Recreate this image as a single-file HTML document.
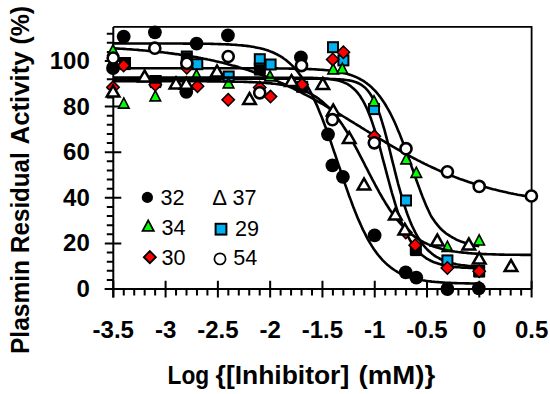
<!DOCTYPE html>
<html><head><meta charset="utf-8"><style>html,body{margin:0;padding:0;background:#fff;width:550px;height:394px;overflow:hidden}text{font-family:"Liberation Sans",sans-serif}</style></head>
<body>
<svg width="550" height="394" viewBox="0 0 550 394" style="display:block">
<rect x="0" y="0" width="550" height="394" fill="#fff"/>
<path d="M113.30 26.90 H531.60 V289.00" fill="none" stroke="#000" stroke-width="1.8"/>
<path d="M113.30 26.90 V297.50" stroke="#000" stroke-width="2" fill="none"/>
<path d="M104.80 289.00 H531.60" stroke="#000" stroke-width="2" fill="none"/>
<path d="M113.30 280.70 V297.50 M123.76 289.00 V295.50 M134.22 289.00 V295.50 M144.67 289.00 V295.50 M155.13 289.00 V295.50 M165.59 280.70 V297.50 M176.05 289.00 V295.50 M186.50 289.00 V295.50 M196.96 289.00 V295.50 M207.42 289.00 V295.50 M217.88 280.70 V297.50 M228.33 289.00 V295.50 M238.79 289.00 V295.50 M249.25 289.00 V295.50 M259.71 289.00 V295.50 M270.16 280.70 V297.50 M280.62 289.00 V295.50 M291.08 289.00 V295.50 M301.54 289.00 V295.50 M311.99 289.00 V295.50 M322.45 280.70 V297.50 M332.91 289.00 V295.50 M343.37 289.00 V295.50 M353.82 289.00 V295.50 M364.28 289.00 V295.50 M374.74 280.70 V297.50 M385.20 289.00 V295.50 M395.65 289.00 V295.50 M406.11 289.00 V295.50 M416.57 289.00 V295.50 M427.03 280.70 V297.50 M437.48 289.00 V295.50 M447.94 289.00 V295.50 M458.40 289.00 V295.50 M468.86 289.00 V295.50 M479.31 280.70 V297.50 M489.77 289.00 V295.50 M500.23 289.00 V295.50 M510.69 289.00 V295.50 M521.14 289.00 V295.50 M531.60 280.70 V297.50 M104.80 289.00 H121.30 M106.80 279.88 H113.30 M106.80 270.76 H113.30 M106.80 261.64 H113.30 M106.80 252.52 H113.30 M104.80 243.40 H121.30 M106.80 234.28 H113.30 M106.80 225.16 H113.30 M106.80 216.04 H113.30 M106.80 206.92 H113.30 M104.80 197.80 H121.30 M106.80 188.68 H113.30 M106.80 179.56 H113.30 M106.80 170.44 H113.30 M106.80 161.32 H113.30 M104.80 152.20 H121.30 M106.80 143.08 H113.30 M106.80 133.96 H113.30 M106.80 124.84 H113.30 M106.80 115.72 H113.30 M104.80 106.60 H121.30 M106.80 97.48 H113.30 M106.80 88.36 H113.30 M106.80 79.24 H113.30 M106.80 70.12 H113.30 M104.80 61.00 H121.30 M106.80 51.88 H113.30 M106.80 42.76 H113.30 M106.80 33.64 H113.30" stroke="#000" stroke-width="2" fill="none"/>
<path d="M113.3 43.4 114.8 43.4 116.4 43.4 117.9 43.4 119.4 43.4 121.0 43.4 122.5 43.4 124.0 43.4 125.6 43.5 127.1 43.5 128.6 43.5 130.1 43.5 131.7 43.5 133.2 43.5 134.7 43.5 136.3 43.5 137.8 43.5 139.3 43.5 140.9 43.5 142.4 43.5 143.9 43.5 145.5 43.5 147.0 43.5 148.5 43.5 150.1 43.5 151.6 43.5 153.1 43.5 154.6 43.5 156.2 43.5 157.7 43.5 159.2 43.5 160.8 43.5 162.3 43.5 163.8 43.5 165.4 43.5 166.9 43.5 168.4 43.5 170.0 43.5 171.5 43.5 173.0 43.5 174.6 43.5 176.1 43.5 177.6 43.5 179.2 43.5 180.7 43.5 182.2 43.5 183.7 43.6 185.3 43.6 186.8 43.6 188.3 43.6 189.9 43.6 191.4 43.6 192.9 43.6 194.5 43.6 196.0 43.6 197.5 43.7 199.1 43.7 200.6 43.7 202.1 43.7 203.7 43.7 205.2 43.8 206.7 43.8 208.2 43.8 209.8 43.8 211.3 43.9 212.8 43.9 214.4 44.0 215.9 44.0 217.4 44.0 219.0 44.1 220.5 44.1 222.0 44.2 223.6 44.2 225.1 44.3 226.6 44.4 228.2 44.4 229.7 44.5 231.2 44.6 232.8 44.7 234.3 44.8 235.8 44.9 237.3 45.0 238.9 45.2 240.4 45.3 241.9 45.4 243.5 45.6 245.0 45.8 246.5 45.9 248.1 46.1 249.6 46.3 251.1 46.6 252.7 46.8 254.2 47.1 255.7 47.4 257.3 47.7 258.8 48.0 260.3 48.3 261.8 48.7 263.4 49.1 264.9 49.6 266.4 50.0 268.0 50.5 269.5 51.1 271.0 51.7 272.6 52.3 274.1 53.0 275.6 53.7 277.2 54.5 278.7 55.3 280.2 56.2 281.8 57.2 283.3 58.2 284.8 59.3 286.4 60.4 287.9 61.7 289.4 63.0 290.9 64.4 292.5 65.9 294.0 67.5 295.5 69.2 297.1 71.0 298.6 72.9 300.1 75.0 301.7 77.1 303.2 79.4 304.7 81.8 306.3 84.3 307.8 86.9 309.3 89.7 310.9 92.6 312.4 95.7 313.9 98.9 315.4 102.2 317.0 105.6 318.5 109.2 320.0 112.9 321.6 116.7 323.1 120.7 324.6 124.7 326.2 128.9 327.7 133.1 329.2 137.4 330.8 141.8 332.3 146.3 333.8 150.8 335.4 155.3 336.9 159.9 338.4 164.5 340.0 169.0 341.5 173.6 343.0 178.1 344.5 182.6 346.1 187.1 347.6 191.4 349.1 195.7 350.7 199.9 352.2 204.0 353.7 208.1 355.3 212.0 356.8 215.7 358.3 219.4 359.9 222.9 361.4 226.3 362.9 229.6 364.5 232.7 366.0 235.7 367.5 238.6 369.0 241.3 370.6 243.9 372.1 246.4 373.6 248.7 375.2 250.9 376.7 253.1 378.2 255.0 379.8 256.9 381.3 258.7 382.8 260.3 384.4 261.9 385.9 263.4 387.4 264.8 389.0 266.1 390.5 267.3 392.0 268.4 393.6 269.5 395.1 270.5 396.6 271.4 398.1 272.3 399.7 273.1 401.2 273.8 402.7 274.5 404.3 275.2 405.8 275.8 407.3 276.4 408.9 276.9 410.4 277.4 411.9 277.8 413.5 278.3 415.0 278.7 416.5 279.0 418.1 279.4 419.6 279.7 421.1 280.0 422.6 280.3 424.2 280.5 425.7 280.8 427.2 281.0 428.8 281.2 430.3 281.4 431.8 281.6 433.4 281.7 434.9 281.9 436.4 282.0 438.0 282.1 439.5 282.3 441.0 282.4 442.6 282.5 444.1 282.6 445.6 282.7 447.2 282.7 448.7 282.8 450.2 282.9 451.7 283.0 453.3 283.0 454.8 283.1 456.3 283.1 457.9 283.2 459.4 283.2 460.9 283.3 462.5 283.3 464.0 283.3 465.5 283.4 467.1 283.4 468.6 283.4 470.1 283.5 471.7 283.5 473.2 283.5 474.7 283.5 476.2 283.6 477.8 283.6 479.3 283.6" fill="none" stroke="#000" stroke-width="2.6" stroke-linejoin="round"/>
<path d="M113.3 48.3 115.1 48.4 116.8 48.5 118.6 48.6 120.3 48.7 122.1 48.8 123.8 48.9 125.6 49.0 127.3 49.2 129.1 49.3 130.8 49.4 132.6 49.5 134.3 49.7 136.1 49.8 137.8 49.9 139.6 50.1 141.3 50.2 143.1 50.4 144.8 50.5 146.6 50.7 148.3 50.9 150.1 51.0 151.8 51.2 153.6 51.4 155.3 51.6 157.1 51.7 158.8 51.9 160.6 52.1 162.3 52.3 164.1 52.5 165.8 52.7 167.6 52.9 169.3 53.2 171.1 53.4 172.8 53.6 174.6 53.9 176.3 54.1 178.1 54.3 179.8 54.6 181.6 54.8 183.3 55.1 185.1 55.4 186.8 55.6 188.6 55.9 190.3 56.2 192.1 56.5 193.8 56.8 195.6 57.1 197.3 57.4 199.1 57.7 200.8 58.1 202.6 58.4 204.3 58.8 206.1 59.1 207.8 59.5 209.6 59.8 211.3 60.2 213.1 60.6 214.8 61.0 216.6 61.4 218.3 61.8 220.1 62.2 221.8 62.6 223.6 63.1 225.3 63.5 227.1 63.9 228.8 64.4 230.6 64.9 232.3 65.4 234.1 65.8 235.8 66.3 237.6 66.8 239.3 67.4 241.1 67.9 242.8 68.4 244.6 69.0 246.3 69.5 248.1 70.1 249.8 70.7 251.6 71.3 253.3 71.9 255.1 72.5 256.8 73.1 258.6 73.7 260.3 74.4 262.1 75.0 263.8 75.7 265.6 76.4 267.3 77.1 269.1 77.7 270.8 78.5 272.6 79.2 274.3 79.9 276.1 80.6 277.8 81.4 279.6 82.2 281.3 82.9 283.1 83.7 284.8 84.5 286.6 85.3 288.3 86.1 290.1 87.0 291.8 87.8 293.6 88.7 295.3 89.5 297.1 90.4 298.8 91.3 300.6 92.1 302.3 93.0 304.1 94.0 305.8 94.9 307.6 95.8 309.3 96.7 311.1 97.7 312.8 98.6 314.6 99.6 316.3 100.6 318.1 101.6 319.8 102.5 321.6 103.5 323.3 104.5 325.1 105.6 326.8 106.6 328.6 107.6 330.3 108.6 332.1 109.7 333.8 110.7 335.6 111.7 337.3 112.8 339.1 113.8 340.8 114.9 342.6 116.0 344.3 117.0 346.1 118.1 347.8 119.2 349.6 120.3 351.3 121.3 353.1 122.4 354.8 123.5 356.6 124.6 358.3 125.7 360.1 126.7 361.8 127.8 363.6 128.9 365.3 130.0 367.1 131.1 368.8 132.2 370.6 133.2 372.3 134.3 374.1 135.4 375.8 136.4 377.6 137.5 379.3 138.6 381.1 139.6 382.8 140.7 384.6 141.7 386.3 142.8 388.1 143.8 389.8 144.8 391.6 145.9 393.3 146.9 395.1 147.9 396.8 148.9 398.6 149.9 400.3 150.9 402.1 151.9 403.8 152.9 405.6 153.8 407.3 154.8 409.1 155.7 410.8 156.7 412.6 157.6 414.3 158.5 416.1 159.4 417.8 160.3 419.6 161.2 421.3 162.1 423.1 163.0 424.8 163.9 426.6 164.7 428.3 165.6 430.1 166.4 431.8 167.2 433.6 168.0 435.3 168.8 437.1 169.6 438.8 170.4 440.6 171.2 442.3 171.9 444.1 172.7 445.8 173.4 447.6 174.1 449.3 174.8 451.1 175.5 452.8 176.2 454.6 176.9 456.3 177.6 458.1 178.2 459.8 178.9 461.6 179.5 463.3 180.1 465.1 180.7 466.8 181.3 468.6 181.9 470.3 182.5 472.1 183.1 473.8 183.7 475.6 184.2 477.3 184.8 479.1 185.3 480.8 185.8 482.6 186.3 484.3 186.8 486.1 187.3 487.8 187.8 489.6 188.3 491.3 188.7 493.1 189.2 494.8 189.6 496.6 190.1 498.3 190.5 500.1 190.9 501.8 191.3 503.6 191.7 505.3 192.1 507.1 192.5 508.8 192.9 510.6 193.3 512.3 193.6 514.1 194.0 515.8 194.3 517.6 194.7 519.3 195.0 521.1 195.3 522.8 195.6 524.6 195.9 526.3 196.2 528.1 196.5 529.8 196.8 531.6 197.1" fill="none" stroke="#000" stroke-width="2.6" stroke-linejoin="round"/>
<path d="M113.3 68.3 114.8 68.3 116.4 68.3 117.9 68.3 119.4 68.3 121.0 68.3 122.5 68.3 124.0 68.3 125.6 68.3 127.1 68.3 128.6 68.3 130.1 68.3 131.7 68.3 133.2 68.3 134.7 68.3 136.3 68.3 137.8 68.3 139.3 68.3 140.9 68.3 142.4 68.3 143.9 68.3 145.5 68.3 147.0 68.3 148.5 68.3 150.1 68.3 151.6 68.3 153.1 68.3 154.6 68.3 156.2 68.3 157.7 68.3 159.2 68.3 160.8 68.3 162.3 68.3 163.8 68.3 165.4 68.3 166.9 68.3 168.4 68.3 170.0 68.3 171.5 68.3 173.0 68.3 174.6 68.3 176.1 68.3 177.6 68.3 179.2 68.3 180.7 68.3 182.2 68.3 183.7 68.3 185.3 68.3 186.8 68.3 188.3 68.3 189.9 68.3 191.4 68.3 192.9 68.3 194.5 68.3 196.0 68.3 197.5 68.3 199.1 68.3 200.6 68.3 202.1 68.3 203.7 68.3 205.2 68.3 206.7 68.3 208.2 68.3 209.8 68.3 211.3 68.3 212.8 68.3 214.4 68.3 215.9 68.3 217.4 68.3 219.0 68.3 220.5 68.3 222.0 68.3 223.6 68.3 225.1 68.3 226.6 68.3 228.2 68.3 229.7 68.3 231.2 68.3 232.8 68.3 234.3 68.3 235.8 68.3 237.3 68.3 238.9 68.3 240.4 68.3 241.9 68.3 243.5 68.3 245.0 68.3 246.5 68.3 248.1 68.3 249.6 68.3 251.1 68.3 252.7 68.3 254.2 68.3 255.7 68.3 257.3 68.3 258.8 68.4 260.3 68.4 261.8 68.4 263.4 68.4 264.9 68.4 266.4 68.4 268.0 68.4 269.5 68.4 271.0 68.4 272.6 68.4 274.1 68.4 275.6 68.4 277.2 68.4 278.7 68.5 280.2 68.5 281.8 68.5 283.3 68.5 284.8 68.5 286.4 68.5 287.9 68.5 289.4 68.6 290.9 68.6 292.5 68.6 294.0 68.6 295.5 68.7 297.1 68.7 298.6 68.7 300.1 68.8 301.7 68.8 303.2 68.9 304.7 68.9 306.3 69.0 307.8 69.0 309.3 69.1 310.9 69.1 312.4 69.2 313.9 69.3 315.4 69.4 317.0 69.5 318.5 69.6 320.0 69.7 321.6 69.8 323.1 69.9 324.6 70.0 326.2 70.2 327.7 70.3 329.2 70.5 330.8 70.7 332.3 70.9 333.8 71.1 335.4 71.3 336.9 71.6 338.4 71.9 340.0 72.1 341.5 72.5 343.0 72.8 344.5 73.2 346.1 73.6 347.6 74.0 349.1 74.5 350.7 75.0 352.2 75.5 353.7 76.1 355.3 76.8 356.8 77.4 358.3 78.2 359.9 79.0 361.4 79.8 362.9 80.7 364.5 81.7 366.0 82.8 367.5 83.9 369.0 85.1 370.6 86.4 372.1 87.8 373.6 89.4 375.2 90.9 376.7 92.7 378.2 94.5 379.8 96.4 381.3 98.5 382.8 100.7 384.4 103.0 385.9 105.5 387.4 108.1 389.0 110.9 390.5 113.7 392.0 116.8 393.6 120.0 395.1 123.3 396.6 126.8 398.1 130.4 399.7 134.1 401.2 138.0 402.7 141.9 404.3 146.0 405.8 150.2 407.3 154.4 408.9 158.7 410.4 163.1 411.9 167.5 413.5 171.8 415.0 176.2 416.5 180.5 418.1 184.8 419.6 188.9 421.1 193.0 422.6 196.9 424.2 200.8 425.7 204.4 427.2 207.9 428.8 211.2 430.3 214.5 431.8 217.3 433.4 219.6 434.9 221.7 436.4 223.7 438.0 225.6 439.5 227.4 441.0 229.0 442.6 230.5 444.1 231.8 445.6 233.1 447.2 234.2 448.7 235.1 450.2 236.1 451.7 237.0 453.3 237.9 454.8 238.7 456.3 239.6 457.9 240.3 459.4 240.9 460.9 241.5 462.5 242.0 464.0 242.5 465.5 243.0 467.1 243.5 468.6 243.9 470.1 244.3 471.7 244.7 473.2 245.1 474.7 245.4 476.2 245.7 477.8 246.0 479.3 246.2" fill="none" stroke="#000" stroke-width="2.6" stroke-linejoin="round"/>
<path d="M113.3 78.8 114.8 78.8 116.4 78.8 117.9 78.8 119.4 78.8 121.0 78.8 122.5 78.8 124.0 78.8 125.6 78.8 127.1 78.8 128.6 78.8 130.1 78.8 131.7 78.8 133.2 78.8 134.7 78.8 136.3 78.8 137.8 78.8 139.3 78.8 140.9 78.8 142.4 78.8 143.9 78.8 145.5 78.8 147.0 78.8 148.5 78.8 150.1 78.8 151.6 78.8 153.1 78.8 154.6 78.8 156.2 78.8 157.7 78.8 159.2 78.8 160.8 78.8 162.3 78.8 163.8 78.8 165.4 78.8 166.9 78.8 168.4 78.8 170.0 78.8 171.5 78.8 173.0 78.8 174.6 78.8 176.1 78.8 177.6 78.8 179.2 78.8 180.7 78.8 182.2 78.8 183.7 78.8 185.3 78.8 186.8 78.8 188.3 78.8 189.9 78.8 191.4 78.8 192.9 78.8 194.5 78.8 196.0 78.8 197.5 78.8 199.1 78.8 200.6 78.8 202.1 78.8 203.7 78.8 205.2 78.8 206.7 78.8 208.2 78.8 209.8 78.8 211.3 78.8 212.8 78.8 214.4 78.8 215.9 78.8 217.4 78.8 219.0 78.8 220.5 78.8 222.0 78.8 223.6 78.8 225.1 78.8 226.6 78.8 228.2 78.8 229.7 78.8 231.2 78.8 232.8 78.8 234.3 78.8 235.8 78.8 237.3 78.8 238.9 78.8 240.4 78.8 241.9 78.8 243.5 78.8 245.0 78.8 246.5 78.8 248.1 78.8 249.6 78.8 251.1 78.8 252.7 78.8 254.2 78.8 255.7 78.8 257.3 78.8 258.8 78.8 260.3 78.8 261.8 78.8 263.4 78.8 264.9 78.8 266.4 78.8 268.0 78.8 269.5 78.8 271.0 78.8 272.6 78.8 274.1 78.8 275.6 78.8 277.2 78.8 278.7 78.8 280.2 78.8 281.8 78.8 283.3 78.8 284.8 78.8 286.4 78.8 287.9 78.8 289.4 78.8 290.9 78.8 292.5 78.8 294.0 78.8 295.5 78.8 297.1 78.8 298.6 78.8 300.1 78.8 301.7 78.8 303.2 78.8 304.7 78.8 306.3 78.8 307.8 78.8 309.3 78.8 310.9 78.8 312.4 78.8 313.9 78.8 315.4 78.8 317.0 78.8 318.5 78.8 320.0 78.8 321.6 78.9 323.1 78.9 324.6 78.9 326.2 78.9 327.7 78.9 329.2 79.0 330.8 79.0 332.3 79.0 333.8 79.1 335.4 79.1 336.9 79.2 338.4 79.3 340.0 79.4 341.5 79.5 343.0 79.6 344.5 79.8 346.1 80.0 347.6 80.2 349.1 80.4 350.7 80.7 352.2 81.1 353.7 81.5 355.3 82.0 356.8 82.5 358.3 83.2 359.9 84.0 361.4 84.9 362.9 86.0 364.5 87.2 366.0 88.7 367.5 90.3 369.0 92.3 370.6 94.5 372.1 97.0 373.6 99.8 375.2 103.0 376.7 106.5 378.2 110.4 379.8 114.7 381.3 119.4 382.8 124.4 384.4 129.7 385.9 135.4 387.4 141.2 389.0 147.2 390.5 153.4 392.0 159.6 393.6 165.8 395.1 171.9 396.6 177.9 398.1 183.8 399.7 189.4 401.2 194.9 402.7 200.1 404.3 205.0 405.8 209.6 407.3 214.0 408.9 218.1 410.4 221.9 411.9 225.5 413.5 228.8 415.0 231.9 416.5 234.8 418.1 237.4 419.6 239.8 421.1 242.1 422.6 244.2 424.2 246.1 425.7 247.8 427.2 249.5 428.8 251.0 430.3 252.3 431.8 253.6 433.4 254.8 434.9 255.8 436.4 256.8 438.0 257.7 439.5 258.5 441.0 259.3 442.6 260.0 444.1 260.6 445.6 261.2 447.2 261.7 448.7 262.2 450.2 262.7 451.7 263.1 453.3 263.5 454.8 263.8 456.3 264.2 457.9 264.5 459.4 264.7 460.9 265.0 462.5 265.2 464.0 265.4 465.5 265.6 467.1 265.8 468.6 266.0 470.1 266.1 471.7 266.2 473.2 266.4 474.7 266.5 476.2 266.6 477.8 266.7 479.3 266.8" fill="none" stroke="#000" stroke-width="2.6" stroke-linejoin="round"/>
<rect x="120.00" y="58.00" width="10" height="10" fill="#00b0f0" stroke="#000" stroke-width="2"/>
<rect x="150.50" y="76.00" width="10" height="10" fill="#00b0f0" stroke="#000" stroke-width="2"/>
<rect x="181.80" y="51.50" width="10" height="10" fill="#00b0f0" stroke="#000" stroke-width="2"/>
<rect x="192.30" y="59.20" width="10" height="10" fill="#00b0f0" stroke="#000" stroke-width="2"/>
<rect x="223.70" y="71.50" width="10" height="10" fill="#00b0f0" stroke="#000" stroke-width="2"/>
<rect x="254.80" y="54.20" width="10" height="10" fill="#00b0f0" stroke="#000" stroke-width="2"/>
<rect x="254.80" y="63.50" width="10" height="10" fill="#00b0f0" stroke="#000" stroke-width="2"/>
<rect x="265.60" y="59.50" width="10" height="10" fill="#00b0f0" stroke="#000" stroke-width="2"/>
<rect x="328.00" y="42.20" width="10" height="10" fill="#00b0f0" stroke="#000" stroke-width="2"/>
<rect x="338.40" y="55.40" width="10" height="10" fill="#00b0f0" stroke="#000" stroke-width="2"/>
<rect x="369.00" y="104.10" width="10" height="10" fill="#00b0f0" stroke="#000" stroke-width="2"/>
<rect x="401.00" y="195.50" width="10" height="10" fill="#00b0f0" stroke="#000" stroke-width="2"/>
<rect x="410.80" y="244.00" width="10" height="10" fill="#00b0f0" stroke="#000" stroke-width="2"/>
<rect x="442.40" y="255.40" width="10" height="10" fill="#00b0f0" stroke="#000" stroke-width="2"/>
<rect x="474.20" y="265.90" width="10" height="10" fill="#00b0f0" stroke="#000" stroke-width="2"/>
<rect x="119.40" y="58.90" width="11.2" height="11.2"/>
<rect x="149.90" y="76.90" width="11.2" height="11.2"/>
<rect x="181.20" y="52.40" width="11.2" height="11.2"/>
<rect x="254.20" y="64.40" width="11.2" height="11.2"/>
<rect x="410.20" y="244.90" width="11.2" height="11.2"/>
<rect x="473.60" y="266.40" width="11.2" height="11.2"/>
<rect x="296.20" y="80.80" width="12" height="12"/>
<path d="M113 44.80 L118.30 55.00 L107.70 55.00 Z" fill="#0f0" stroke="#000" stroke-width="1.6"/>
<path d="M123.8 97.90 L129.10 108.10 L118.50 108.10 Z" fill="#0f0" stroke="#000" stroke-width="1.6"/>
<path d="M155.3 90.70 L160.60 100.90 L150.00 100.90 Z" fill="#0f0" stroke="#000" stroke-width="1.6"/>
<path d="M196.5 69.60 L201.80 79.80 L191.20 79.80 Z" fill="#0f0" stroke="#000" stroke-width="1.6"/>
<path d="M228.5 77.70 L233.80 87.90 L223.20 87.90 Z" fill="#0f0" stroke="#000" stroke-width="1.6"/>
<path d="M270 70.70 L275.30 80.90 L264.70 80.90 Z" fill="#0f0" stroke="#000" stroke-width="1.6"/>
<path d="M333.2 63.70 L338.50 73.90 L327.90 73.90 Z" fill="#0f0" stroke="#000" stroke-width="1.6"/>
<path d="M342.3 63.20 L347.60 73.40 L337.00 73.40 Z" fill="#0f0" stroke="#000" stroke-width="1.6"/>
<path d="M374 95.70 L379.30 105.90 L368.70 105.90 Z" fill="#0f0" stroke="#000" stroke-width="1.6"/>
<path d="M406.2 153.70 L411.50 163.90 L400.90 163.90 Z" fill="#0f0" stroke="#000" stroke-width="1.6"/>
<path d="M416.3 167.20 L421.60 177.40 L411.00 177.40 Z" fill="#0f0" stroke="#000" stroke-width="1.6"/>
<path d="M447.4 241.20 L452.70 251.40 L442.10 251.40 Z" fill="#0f0" stroke="#000" stroke-width="1.6"/>
<path d="M479.2 234.80 L484.50 245.00 L473.90 245.00 Z" fill="#0f0" stroke="#000" stroke-width="1.6"/>
<path d="M113.3 77.6 114.8 77.6 116.4 77.6 117.9 77.6 119.4 77.6 121.0 77.6 122.5 77.6 124.0 77.6 125.6 77.6 127.1 77.6 128.6 77.6 130.1 77.6 131.7 77.6 133.2 77.6 134.7 77.6 136.3 77.6 137.8 77.6 139.3 77.6 140.9 77.6 142.4 77.6 143.9 77.6 145.5 77.6 147.0 77.6 148.5 77.6 150.1 77.6 151.6 77.6 153.1 77.6 154.6 77.6 156.2 77.6 157.7 77.6 159.2 77.6 160.8 77.6 162.3 77.6 163.8 77.6 165.4 77.6 166.9 77.6 168.4 77.6 170.0 77.6 171.5 77.6 173.0 77.6 174.6 77.6 176.1 77.6 177.6 77.6 179.2 77.6 180.7 77.6 182.2 77.6 183.7 77.6 185.3 77.6 186.8 77.6 188.3 77.6 189.9 77.6 191.4 77.6 192.9 77.6 194.5 77.6 196.0 77.6 197.5 77.6 199.1 77.6 200.6 77.6 202.1 77.6 203.7 77.6 205.2 77.6 206.7 77.6 208.2 77.6 209.8 77.6 211.3 77.6 212.8 77.6 214.4 77.6 215.9 77.6 217.4 77.6 219.0 77.6 220.5 77.6 222.0 77.6 223.6 77.6 225.1 77.6 226.6 77.6 228.2 77.6 229.7 77.6 231.2 77.6 232.8 77.6 234.3 77.6 235.8 77.6 237.3 77.6 238.9 77.6 240.4 77.6 241.9 77.6 243.5 77.6 245.0 77.6 246.5 77.6 248.1 77.6 249.6 77.6 251.1 77.6 252.7 77.6 254.2 77.6 255.7 77.6 257.3 77.6 258.8 77.6 260.3 77.6 261.8 77.6 263.4 77.6 264.9 77.6 266.4 77.6 268.0 77.6 269.5 77.7 271.0 77.7 272.6 77.7 274.1 77.7 275.6 77.7 277.2 77.7 278.7 77.7 280.2 77.7 281.8 77.7 283.3 77.7 284.8 77.7 286.4 77.7 287.9 77.7 289.4 77.7 290.9 77.7 292.5 77.7 294.0 77.7 295.5 77.7 297.1 77.7 298.6 77.7 300.1 77.7 301.7 77.8 303.2 77.8 304.7 77.8 306.3 77.8 307.8 77.8 309.3 77.9 310.9 77.9 312.4 77.9 313.9 78.0 315.4 78.0 317.0 78.1 318.5 78.2 320.0 78.2 321.6 78.3 323.1 78.4 324.6 78.5 326.2 78.7 327.7 78.8 329.2 79.0 330.8 79.2 332.3 79.4 333.8 79.6 335.4 79.9 336.9 80.2 338.4 80.6 340.0 81.0 341.5 81.5 343.0 82.1 344.5 82.7 346.1 83.4 347.6 84.2 349.1 85.2 350.7 86.2 352.2 87.4 353.7 88.7 355.3 90.2 356.8 91.9 358.3 93.7 359.9 95.8 361.4 98.2 362.9 100.7 364.5 103.6 366.0 106.7 367.5 110.1 369.0 113.8 370.6 117.8 372.1 122.1 373.6 126.7 375.2 131.5 376.7 136.6 378.2 141.9 379.8 147.4 381.3 153.0 382.8 158.8 384.4 164.6 385.9 170.4 387.4 176.2 389.0 182.0 390.5 187.6 392.0 193.1 393.6 198.3 395.1 203.4 396.6 208.3 398.1 212.9 399.7 217.3 401.2 221.4 402.7 225.2 404.3 228.8 405.8 232.2 407.3 235.3 408.9 238.1 410.4 240.8 411.9 243.2 413.5 245.5 415.0 247.6 416.5 249.4 418.1 251.2 419.6 252.8 421.1 254.2 422.6 255.5 424.2 256.7 425.7 257.8 427.2 258.8 428.8 259.7 430.3 260.5 431.8 261.3 433.4 262.0 434.9 262.6 436.4 263.1 438.0 263.6 439.5 264.1 441.0 264.5 442.6 264.9 444.1 265.3 445.6 265.6 447.2 265.8 448.7 266.1 450.2 266.3 451.7 266.6 453.3 266.7 454.8 266.9 456.3 267.1 457.9 267.2 459.4 267.3 460.9 267.5 462.5 267.6 464.0 267.7 465.5 267.8 467.1 267.8 468.6 267.9 470.1 268.0 471.7 268.0 473.2 268.1 474.7 268.1 476.2 268.2 477.8 268.2 479.3 268.3" fill="none" stroke="#000" stroke-width="2.6" stroke-linejoin="round"/>
<path d="M123.6 59.40 L129.80 65.6 L123.6 71.80 L117.40 65.6 Z" fill="#f00" stroke="#000" stroke-width="1.5"/>
<path d="M113 81.10 L119.20 87.3 L113 93.50 L106.80 87.3 Z" fill="#f00" stroke="#000" stroke-width="1.5"/>
<path d="M155.3 78.60 L161.50 84.8 L155.3 91.00 L149.10 84.8 Z" fill="#f00" stroke="#000" stroke-width="1.5"/>
<path d="M186.8 61.60 L193.00 67.8 L186.8 74.00 L180.60 67.8 Z" fill="#f00" stroke="#000" stroke-width="1.5"/>
<path d="M197.5 80.00 L203.70 86.2 L197.5 92.40 L191.30 86.2 Z" fill="#f00" stroke="#000" stroke-width="1.5"/>
<path d="M228.2 93.60 L234.40 99.8 L228.2 106.00 L222.00 99.8 Z" fill="#f00" stroke="#000" stroke-width="1.5"/>
<path d="M259.7 81.30 L265.90 87.5 L259.7 93.70 L253.50 87.5 Z" fill="#f00" stroke="#000" stroke-width="1.5"/>
<path d="M270.5 90.40 L276.70 96.6 L270.5 102.80 L264.30 96.6 Z" fill="#f00" stroke="#000" stroke-width="1.5"/>
<path d="M302 78.40 L308.20 84.6 L302 90.80 L295.80 84.6 Z" fill="#f00" stroke="#000" stroke-width="1.5"/>
<path d="M332.7 53.20 L338.90 59.4 L332.7 65.60 L326.50 59.4 Z" fill="#f00" stroke="#000" stroke-width="1.5"/>
<path d="M343.4 46.10 L349.60 52.3 L343.4 58.50 L337.20 52.3 Z" fill="#f00" stroke="#000" stroke-width="1.5"/>
<path d="M374.3 130.10 L380.50 136.3 L374.3 142.50 L368.10 136.3 Z" fill="#f00" stroke="#000" stroke-width="1.5"/>
<path d="M405.8 226.30 L412.00 232.5 L405.8 238.70 L399.60 232.5 Z" fill="#f00" stroke="#000" stroke-width="1.5"/>
<path d="M415.2 239.00 L421.40 245.2 L415.2 251.40 L409.00 245.2 Z" fill="#f00" stroke="#000" stroke-width="1.5"/>
<path d="M447.4 261.80 L453.60 268 L447.4 274.20 L441.20 268 Z" fill="#f00" stroke="#000" stroke-width="1.5"/>
<path d="M479.2 265.00 L485.40 271.2 L479.2 277.40 L473.00 271.2 Z" fill="#f00" stroke="#000" stroke-width="1.5"/>
<rect x="149.5" y="75.3" width="12" height="8.4"/>
<path d="M113.3 81.2 115.1 81.2 116.8 81.2 118.6 81.2 120.3 81.2 122.1 81.2 123.8 81.2 125.6 81.2 127.3 81.2 129.1 81.2 130.8 81.2 132.6 81.2 134.3 81.2 136.1 81.2 137.8 81.2 139.6 81.2 141.3 81.2 143.1 81.2 144.8 81.2 146.6 81.2 148.3 81.2 150.1 81.2 151.8 81.2 153.6 81.2 155.3 81.2 157.1 81.2 158.8 81.2 160.6 81.2 162.3 81.2 164.1 81.3 165.8 81.3 167.6 81.3 169.3 81.3 171.1 81.3 172.8 81.3 174.6 81.3 176.3 81.3 178.1 81.3 179.8 81.3 181.6 81.3 183.3 81.3 185.1 81.3 186.8 81.3 188.6 81.3 190.3 81.3 192.1 81.3 193.8 81.3 195.6 81.3 197.3 81.3 199.1 81.3 200.8 81.3 202.6 81.3 204.3 81.3 206.1 81.3 207.8 81.4 209.6 81.4 211.3 81.4 213.1 81.4 214.8 81.4 216.6 81.4 218.3 81.4 220.1 81.4 221.8 81.5 223.6 81.5 225.3 81.5 227.1 81.5 228.8 81.5 230.6 81.6 232.3 81.6 234.1 81.6 235.8 81.7 237.6 81.7 239.3 81.7 241.1 81.8 242.8 81.8 244.6 81.9 246.3 81.9 248.1 82.0 249.8 82.1 251.6 82.1 253.3 82.2 255.1 82.3 256.8 82.4 258.6 82.5 260.3 82.6 262.1 82.7 263.8 82.8 265.6 82.9 267.3 83.1 269.1 83.2 270.8 83.4 272.6 83.6 274.3 83.7 276.1 84.0 277.8 84.2 279.6 84.4 281.3 84.7 283.1 85.0 284.8 85.3 286.6 85.6 288.3 86.0 290.1 86.3 291.8 86.8 293.6 87.2 295.3 87.7 297.1 88.2 298.8 88.8 300.6 89.4 302.3 90.0 304.1 90.7 305.8 91.5 307.6 92.3 309.3 93.1 311.1 94.1 312.8 95.0 314.6 96.1 316.3 97.2 318.1 98.4 319.8 99.7 321.6 101.1 323.3 102.5 325.1 104.1 326.8 105.7 328.6 107.5 330.3 109.3 332.1 111.2 333.8 113.3 335.6 115.4 337.3 117.7 339.1 120.0 340.8 122.5 342.6 125.1 344.3 127.7 346.1 130.5 347.8 133.4 349.6 136.3 351.3 139.4 353.1 142.5 354.8 145.7 356.6 148.9 358.3 152.2 360.1 155.6 361.8 158.9 363.6 162.3 365.3 165.8 367.1 169.2 368.8 172.6 370.6 176.0 372.3 179.4 374.1 182.7 375.8 186.0 377.6 189.2 379.3 192.4 381.1 195.5 382.8 198.5 384.6 201.4 386.3 204.3 388.1 207.0 389.8 209.7 391.6 212.2 393.3 214.7 395.1 217.0 396.8 219.3 398.6 221.4 400.3 223.4 402.1 225.4 403.8 227.2 405.6 229.0 407.3 230.6 409.1 232.2 410.8 233.7 412.6 235.1 414.3 236.4 416.1 237.6 417.8 238.8 419.6 239.9 421.3 240.9 423.1 241.9 424.8 242.8 426.6 243.6 428.3 244.4 430.1 245.1 431.8 245.8 433.6 246.4 435.3 247.0 437.1 247.6 438.8 248.1 440.6 248.6 442.3 249.1 444.1 249.5 445.8 249.9 447.6 250.3 449.3 250.6 451.1 250.9 452.8 251.2 454.6 251.5 456.3 251.7 458.1 252.0 459.8 252.2 461.6 252.4 463.3 252.6 465.1 252.8 466.8 252.9 468.6 253.1 470.3 253.2 472.1 253.4 473.8 253.5 475.6 253.6 477.3 253.7 479.1 253.8 480.8 253.9 482.6 254.0 484.3 254.1 486.1 254.1 487.8 254.2 489.6 254.3 491.3 254.3 493.1 254.4 494.8 254.4 496.6 254.5 498.3 254.5 500.1 254.6 501.8 254.6 503.6 254.6 505.3 254.7 507.1 254.7 508.8 254.7 510.6 254.7 512.3 254.8 514.1 254.8 515.8 254.8 517.6 254.8 519.3 254.8 521.1 254.9 522.8 254.9 524.6 254.9 526.3 254.9 528.1 254.9 529.8 254.9 531.6 254.9" fill="none" stroke="#000" stroke-width="2.6" stroke-linejoin="round"/>
<circle cx="123.7" cy="36.6" r="6.9"/>
<circle cx="154.9" cy="32.3" r="6.9"/>
<circle cx="196.6" cy="43.6" r="6.9"/>
<circle cx="227.9" cy="35.4" r="6.9"/>
<circle cx="113" cy="68" r="6.9"/>
<circle cx="186.3" cy="91.8" r="6.9"/>
<circle cx="300.9" cy="57.4" r="6.9"/>
<circle cx="328" cy="134.3" r="6.9"/>
<circle cx="332.4" cy="165.4" r="6.9"/>
<circle cx="342.9" cy="176.8" r="6.9"/>
<circle cx="374.6" cy="235.3" r="6.9"/>
<circle cx="405.7" cy="272.3" r="6.9"/>
<circle cx="416.3" cy="277.6" r="6.9"/>
<circle cx="447.4" cy="289" r="6.9"/>
<circle cx="478.8" cy="288.3" r="6.9"/>
<path d="M113.1 85.60 L119.40 96.50 L106.80 96.50 Z" fill="#fff" stroke="#000" stroke-width="2.5"/>
<path d="M144.6 70.50 L150.90 81.40 L138.30 81.40 Z" fill="#fff" stroke="#000" stroke-width="2.5"/>
<path d="M176 77.50 L182.30 88.40 L169.70 88.40 Z" fill="#fff" stroke="#000" stroke-width="2.5"/>
<path d="M186.3 77.80 L192.60 88.70 L180.00 88.70 Z" fill="#fff" stroke="#000" stroke-width="2.5"/>
<path d="M217 65.50 L223.30 76.40 L210.70 76.40 Z" fill="#fff" stroke="#000" stroke-width="2.5"/>
<path d="M249.5 93.00 L255.80 103.90 L243.20 103.90 Z" fill="#fff" stroke="#000" stroke-width="2.5"/>
<path d="M291.5 75.20 L297.80 86.10 L285.20 86.10 Z" fill="#fff" stroke="#000" stroke-width="2.5"/>
<path d="M322.8 78.00 L329.10 88.90 L316.50 88.90 Z" fill="#fff" stroke="#000" stroke-width="2.5"/>
<path d="M333.2 104.50 L339.50 115.40 L326.90 115.40 Z" fill="#fff" stroke="#000" stroke-width="2.5"/>
<path d="M349.2 132.00 L355.50 142.90 L342.90 142.90 Z" fill="#fff" stroke="#000" stroke-width="2.5"/>
<path d="M364 178.50 L370.30 189.40 L357.70 189.40 Z" fill="#fff" stroke="#000" stroke-width="2.5"/>
<path d="M395.3 208.50 L401.60 219.40 L389.00 219.40 Z" fill="#fff" stroke="#000" stroke-width="2.5"/>
<path d="M404.8 223.70 L411.10 234.60 L398.50 234.60 Z" fill="#fff" stroke="#000" stroke-width="2.5"/>
<path d="M437.3 234.50 L443.60 245.40 L431.00 245.40 Z" fill="#fff" stroke="#000" stroke-width="2.5"/>
<path d="M468.8 238.50 L475.10 249.40 L462.50 249.40 Z" fill="#fff" stroke="#000" stroke-width="2.5"/>
<path d="M479.2 252.60 L485.50 263.50 L472.90 263.50 Z" fill="#fff" stroke="#000" stroke-width="2.5"/>
<path d="M511 260.00 L517.30 270.90 L504.70 270.90 Z" fill="#fff" stroke="#000" stroke-width="2.5"/>
<circle cx="113.2" cy="58" r="5.55" fill="#fff" stroke="#000" stroke-width="2.6"/>
<circle cx="154.8" cy="48.2" r="5.55" fill="#fff" stroke="#000" stroke-width="2.6"/>
<circle cx="186.8" cy="63.2" r="5.55" fill="#fff" stroke="#000" stroke-width="2.6"/>
<circle cx="228.2" cy="56.5" r="5.55" fill="#fff" stroke="#000" stroke-width="2.6"/>
<circle cx="259.7" cy="92.8" r="5.55" fill="#fff" stroke="#000" stroke-width="2.6"/>
<circle cx="301.5" cy="65.6" r="5.55" fill="#fff" stroke="#000" stroke-width="2.6"/>
<circle cx="332.4" cy="119.7" r="5.55" fill="#fff" stroke="#000" stroke-width="2.6"/>
<circle cx="374.3" cy="142.8" r="5.55" fill="#fff" stroke="#000" stroke-width="2.6"/>
<circle cx="406" cy="148.7" r="5.55" fill="#fff" stroke="#000" stroke-width="2.6"/>
<circle cx="447.4" cy="171.8" r="5.55" fill="#fff" stroke="#000" stroke-width="2.6"/>
<circle cx="479.2" cy="186.4" r="5.55" fill="#fff" stroke="#000" stroke-width="2.6"/>
<circle cx="531.4" cy="196" r="5.55" fill="#fff" stroke="#000" stroke-width="2.6"/>
<text x="89.8" y="297.0" text-anchor="end"  font-weight="bold" font-size="24">0</text>
<text x="89.8" y="251.4" text-anchor="end"  font-weight="bold" font-size="24">20</text>
<text x="89.8" y="205.8" text-anchor="end"  font-weight="bold" font-size="24">40</text>
<text x="89.8" y="160.2" text-anchor="end"  font-weight="bold" font-size="24">60</text>
<text x="89.8" y="114.6" text-anchor="end"  font-weight="bold" font-size="24">80</text>
<text x="89.8" y="69.0" text-anchor="end"  font-weight="bold" font-size="24">100</text>
<text x="113.3" y="337.8" text-anchor="middle"  font-weight="bold" font-size="24">-3.5</text>
<text x="165.59" y="337.8" text-anchor="middle"  font-weight="bold" font-size="24">-3</text>
<text x="217.88" y="337.8" text-anchor="middle"  font-weight="bold" font-size="24">-2.5</text>
<text x="270.16" y="337.8" text-anchor="middle"  font-weight="bold" font-size="24">-2</text>
<text x="322.45" y="337.8" text-anchor="middle"  font-weight="bold" font-size="24">-1.5</text>
<text x="374.74" y="337.8" text-anchor="middle"  font-weight="bold" font-size="24">-1</text>
<text x="427.03" y="337.8" text-anchor="middle"  font-weight="bold" font-size="24">-0.5</text>
<text x="479.31" y="337.8" text-anchor="middle"  font-weight="bold" font-size="24">0</text>
<text x="531.6" y="337.8" text-anchor="middle"  font-weight="bold" font-size="24">0.5</text>
<text transform="translate(28.9,354.0) rotate(-90)" text-anchor="start"  font-weight="bold" font-size="25.2" textLength="94.0" lengthAdjust="spacingAndGlyphs">Plasmin</text>
<text transform="translate(28.9,252.9) rotate(-90)" text-anchor="start"  font-weight="bold" font-size="25.2" textLength="100.6" lengthAdjust="spacingAndGlyphs">Residual</text>
<text transform="translate(28.9,144.4) rotate(-90)" text-anchor="start"  font-weight="bold" font-size="25.2" textLength="93.0" lengthAdjust="spacingAndGlyphs">Activity</text>
<text transform="translate(28.9,44.5) rotate(-90)" text-anchor="start"  font-weight="bold" font-size="25.2" textLength="38.6" lengthAdjust="spacingAndGlyphs">(%)</text>
<text x="167.6" y="383.6" text-anchor="start"  font-weight="bold" font-size="25.2" textLength="41.6" lengthAdjust="spacingAndGlyphs">Log</text>
<text x="215.6" y="383.6" text-anchor="start"  font-weight="bold" font-size="25.2" textLength="133.6" lengthAdjust="spacingAndGlyphs">{[Inhibitor]</text>
<text x="358.6" y="383.6" text-anchor="start"  font-weight="bold" font-size="25.2" textLength="76.6" lengthAdjust="spacingAndGlyphs">(mM)}</text>
<text x="160.6" y="204.7" text-anchor="start"  font-weight="normal" font-size="21.4" textLength="24.0" lengthAdjust="spacingAndGlyphs">32</text>
<text x="161.6" y="235.0" text-anchor="start"  font-weight="normal" font-size="21.4" textLength="24.0" lengthAdjust="spacingAndGlyphs">34</text>
<text x="161.6" y="265.1" text-anchor="start"  font-weight="normal" font-size="21.4" textLength="24.0" lengthAdjust="spacingAndGlyphs">30</text>
<text x="232.5" y="204.7" text-anchor="start"  font-weight="normal" font-size="21.4" textLength="24.0" lengthAdjust="spacingAndGlyphs">37</text>
<text x="235.1" y="235.5" text-anchor="start"  font-weight="normal" font-size="21.4" textLength="24.0" lengthAdjust="spacingAndGlyphs">29</text>
<text x="233.2" y="264.9" text-anchor="start"  font-weight="normal" font-size="21.4" textLength="24.0" lengthAdjust="spacingAndGlyphs">54</text>
<text x="212.2" y="205.0" text-anchor="start"  font-weight="normal" font-size="22.2">&#916;</text>
<circle cx="147.4" cy="197.4" r="5.6"/>
<path d="M148.2 220.30 L153.80 230.80 L142.60 230.80 Z" fill="#0f0" stroke="#000" stroke-width="1.8"/>
<path d="M149.85 251.14999999999998 L155.85 257.15 L149.85 263.15 L143.85 257.15 Z" fill="#f00" stroke="#000" stroke-width="1.9"/>
<rect x="215.60" y="223.80" width="10.8" height="10.8" fill="#00b0f0" stroke="#000" stroke-width="2"/>
<circle cx="220" cy="258.9" r="5.6" fill="#fff" stroke="#000" stroke-width="1.7"/>
</svg>
</body></html>
